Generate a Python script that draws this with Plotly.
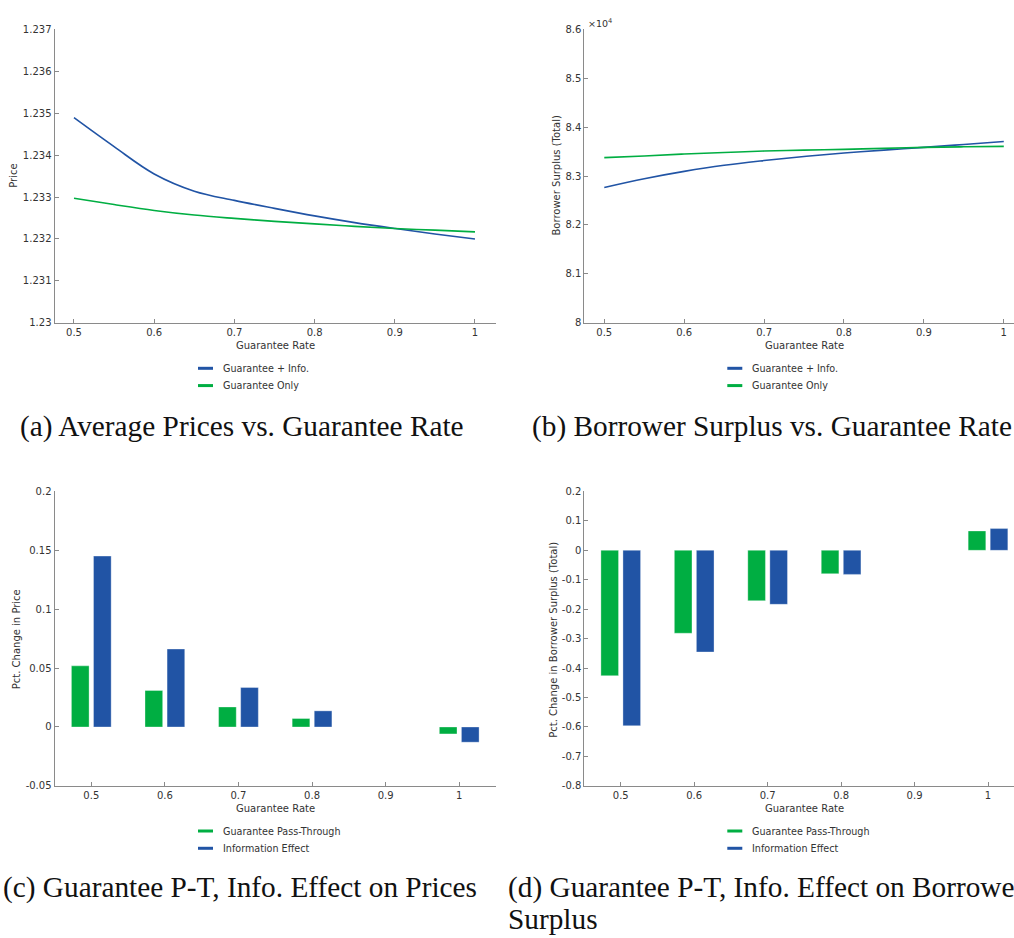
import plotly.graph_objects as go

# ---- data ----------------------------------------------------------------
rate_fine = [0.50, 0.55, 0.60, 0.65, 0.70, 0.75, 0.80, 0.85, 0.90, 0.95, 1.00]

price_info = [1.23489, 1.23420, 1.23355, 1.23314, 1.23292, 1.23273,
              1.23255, 1.23239, 1.23225, 1.23212, 1.23200]
price_only = [1.23297, 1.23282, 1.23268, 1.23257, 1.23249, 1.23242,
              1.23236, 1.23230, 1.23225, 1.23221, 1.23217]

# borrower surplus, in units of 10^4
surplus_info = [8.2767, 8.2945, 8.3095, 8.3220, 8.3316, 8.3400,
                8.3471, 8.3530, 8.3585, 8.3645, 8.3706]
surplus_only = [8.3376, 8.3410, 8.3450, 8.3480, 8.3511, 8.3530,
                8.3545, 8.3565, 8.3585, 8.3597, 8.3606]

rate_bars = [0.5, 0.6, 0.7, 0.8, 1.0]
price_passthrough = [0.0519, 0.0310, 0.0170, 0.0072, -0.0059]
price_info_effect = [0.1451, 0.0662, 0.0335, 0.0137, -0.0129]
surplus_passthrough = [-0.4257, -0.2816, -0.1710, -0.0794, 0.0657]
surplus_info_effect = [-0.5957, -0.3453, -0.1834, -0.0818, 0.0738]

price_ticks = [1.230, 1.231, 1.232, 1.233, 1.234, 1.235, 1.236, 1.237]
price_ticklabels = ["1.23", "1.231", "1.232", "1.233", "1.234", "1.235", "1.236", "1.237"]
surplus_ticks = [8.0, 8.1, 8.2, 8.3, 8.4, 8.5, 8.6]
surplus_ticklabels = ["8", "8.1", "8.2", "8.3", "8.4", "8.5", "8.6"]
rate_ticks = [0.5, 0.6, 0.7, 0.8, 0.9, 1.0]
rate_ticklabels = ["0.5", "0.6", "0.7", "0.8", "0.9", "1"]
pct_price_ticks = [-0.05, 0, 0.05, 0.1, 0.15, 0.2]
pct_price_ticklabels = ["-0.05", "0", "0.05", "0.1", "0.15", "0.2"]
pct_surplus_ticks = [-0.8, -0.7, -0.6, -0.5, -0.4, -0.3, -0.2, -0.1, 0, 0.1, 0.2]
pct_surplus_ticklabels = ["-0.8", "-0.7", "-0.6", "-0.5", "-0.4", "-0.3",
                          "-0.2", "-0.1", "0", "0.1", "0.2"]

# ---- styling -------------------------------------------------------------
W, H = 1014, 938
BLUE = "#2154a5"
GREEN = "#00ae42"
AXIS = "#8a8a8a"
TXT = "#333333"
SANS = "DejaVu Sans"
SERIF = "Liberation Serif"
FS = 10
LEG_FS = 9.6


def px(x):
    return x / W


def py(y):
    return 1 - y / H


fig = go.Figure()

line_style = dict(width=1.6, shape="spline", smoothing=1.0)

# panel (a): prices
fig.add_trace(go.Scatter(x=rate_fine, y=price_info, mode="lines", line=dict(color=BLUE, **line_style),
                         xaxis="x", yaxis="y", showlegend=False))
fig.add_trace(go.Scatter(x=rate_fine, y=price_only, mode="lines", line=dict(color=GREEN, **line_style),
                         xaxis="x", yaxis="y", showlegend=False))
# panel (b): surplus
fig.add_trace(go.Scatter(x=rate_fine, y=surplus_info, mode="lines", line=dict(color=BLUE, **line_style),
                         xaxis="x2", yaxis="y2", showlegend=False))
fig.add_trace(go.Scatter(x=rate_fine, y=surplus_only, mode="lines", line=dict(color=GREEN, **line_style),
                         xaxis="x2", yaxis="y2", showlegend=False))
# panel (c): pct change in price
edge = dict(width=0.6, color="rgba(255,255,255,0.55)")
fig.add_trace(go.Bar(x=rate_bars, y=price_passthrough, marker=dict(color=GREEN, line=edge),
                     xaxis="x3", yaxis="y3", showlegend=False, offsetgroup="a"))
fig.add_trace(go.Bar(x=rate_bars, y=price_info_effect, marker=dict(color=BLUE, line=edge),
                     xaxis="x3", yaxis="y3", showlegend=False, offsetgroup="b"))
# panel (d): pct change in surplus
fig.add_trace(go.Bar(x=rate_bars, y=surplus_passthrough, marker=dict(color=GREEN, line=edge),
                     xaxis="x4", yaxis="y4", showlegend=False, offsetgroup="a"))
fig.add_trace(go.Bar(x=rate_bars, y=surplus_info_effect, marker=dict(color=BLUE, line=edge),
                     xaxis="x4", yaxis="y4", showlegend=False, offsetgroup="b"))


def xaxis(left, right, rng, anchor):
    return dict(domain=[px(left), px(right)], range=rng, anchor=anchor,
                tickvals=rate_ticks, ticktext=rate_ticklabels,
                ticks="inside", ticklen=4, tickcolor=AXIS, tickwidth=1,
                showline=True, linecolor=AXIS, linewidth=1, showgrid=False, zeroline=False,
                tickfont=dict(family=SANS, size=FS, color=TXT), fixedrange=True)


def yaxis(top, bottom, rng, vals, labels, anchor):
    return dict(domain=[py(bottom), py(top)], range=rng, anchor=anchor,
                tickvals=vals, ticktext=labels,
                ticks="inside", ticklen=4, tickcolor=AXIS, tickwidth=1,
                showline=True, linecolor=AXIS, linewidth=1, showgrid=False, zeroline=False,
                tickfont=dict(family=SANS, size=FS, color=TXT), fixedrange=True)


TOP_T, TOP_B = 23.5, 321.0
BOT_T, BOT_B = 491.7, 790.0
L1, R1 = 54.5, 496.0
L2, R2 = 584.3, 1013.7

fig.update_layout(
    width=W, height=H, margin=dict(l=0, r=0, t=0, b=0),
    paper_bgcolor="white", plot_bgcolor="white",
    barmode="group", bargap=0.4, bargroupgap=0.2,
    xaxis=xaxis(L1, R1, [0.4757, 1.0262], "y"),
    yaxis=yaxis(TOP_T, TOP_B, [1.230, 1.237], price_ticks, price_ticklabels, "x"),
    xaxis2=xaxis(L2, R2, [0.475, 0.5 + (R2 - 604.3) / 799.0], "y2"),
    yaxis2=yaxis(TOP_T, TOP_B, [8.0, 8.6], surplus_ticks, surplus_ticklabels, "x2"),
    xaxis3=xaxis(L1, R1, [0.45, 1.05], "y3"),
    yaxis3=yaxis(BOT_T, BOT_B, [-0.05, 0.2], pct_price_ticks, pct_price_ticklabels, "x3"),
    xaxis4=xaxis(L2, R2, [0.4504, 0.5 + (R2 - 620.7) / 734.6], "y4"),
    yaxis4=yaxis(BOT_T, BOT_B, [-0.8, 0.2], pct_surplus_ticks, pct_surplus_ticklabels, "x4"),
)

annotations = []
shapes = []


def label(x, y, text, size=FS, angle=0, xanchor="center", family=SANS, color=TXT, align="center"):
    annotations.append(dict(x=px(x), y=py(y), xref="paper", yref="paper", text=text,
                            showarrow=False, textangle=angle, xanchor=xanchor, yanchor="middle",
                            align=align, font=dict(family=family, size=size, color=color)))


# axis titles
label(275.5, 344, "Guarantee Rate")
label(804, 344, "Guarantee Rate")
label(275.5, 813.3, "Guarantee Rate")
label(804, 813.3, "Guarantee Rate")
label(14, 172, "Price", angle=-90)
label(556.7, 172, "Borrower Surplus (Total)", angle=-90)
label(16.7, 641.7, "Pct. Change in Price", angle=-90)
label(553.3, 641.7, "Pct. Change in Borrower Surplus (Total)", angle=-90)

# exponent marker on the surplus axis
label(586, 17, "×10<sup>4</sup>", size=9.5, xanchor="left")


# legends
def legend(x0, y0, entries):
    for i, (color, text) in enumerate(entries):
        y = y0 + i * 17.5
        shapes.append(dict(type="line", xref="paper", yref="paper",
                           x0=px(x0), x1=px(x0 + 15), y0=py(y), y1=py(y),
                           line=dict(color=color, width=3)))
        label(x0 + 23, y, text, size=LEG_FS, xanchor="left")


legend(198, 367, [(BLUE, "Guarantee + Info."), (GREEN, "Guarantee Only")])
legend(727.3, 367, [(BLUE, "Guarantee + Info."), (GREEN, "Guarantee Only")])
legend(198, 835.7, [(GREEN, "Guarantee Pass-Through"), (BLUE, "Information Effect")])
legend(727.3, 835.7, [(GREEN, "Guarantee Pass-Through"), (BLUE, "Information Effect")])

# sub-figure captions
CAP = 29.3
CAP_COLOR = "#111111"
label(18, 426, "(a) Average Prices vs. Guarantee Rate", size=CAP, xanchor="left", family=SERIF, color=CAP_COLOR)
label(530, 426, "(b) Borrower Surplus vs. Guarantee Rate", size=CAP, xanchor="left", family=SERIF, color=CAP_COLOR)
label(1, 893, "(c) Guarantee P-T, Info. Effect on Prices", size=CAP, xanchor="left", family=SERIF, color=CAP_COLOR)
label(506, 893, "(d) Guarantee P-T, Info. Effect on Borrower", size=CAP, xanchor="left", family=SERIF, color=CAP_COLOR)
label(506, 925, "Surplus", size=CAP, xanchor="left", family=SERIF, color=CAP_COLOR)

fig.update_layout(annotations=annotations, shapes=shapes)

fig.write_html("out.html")
